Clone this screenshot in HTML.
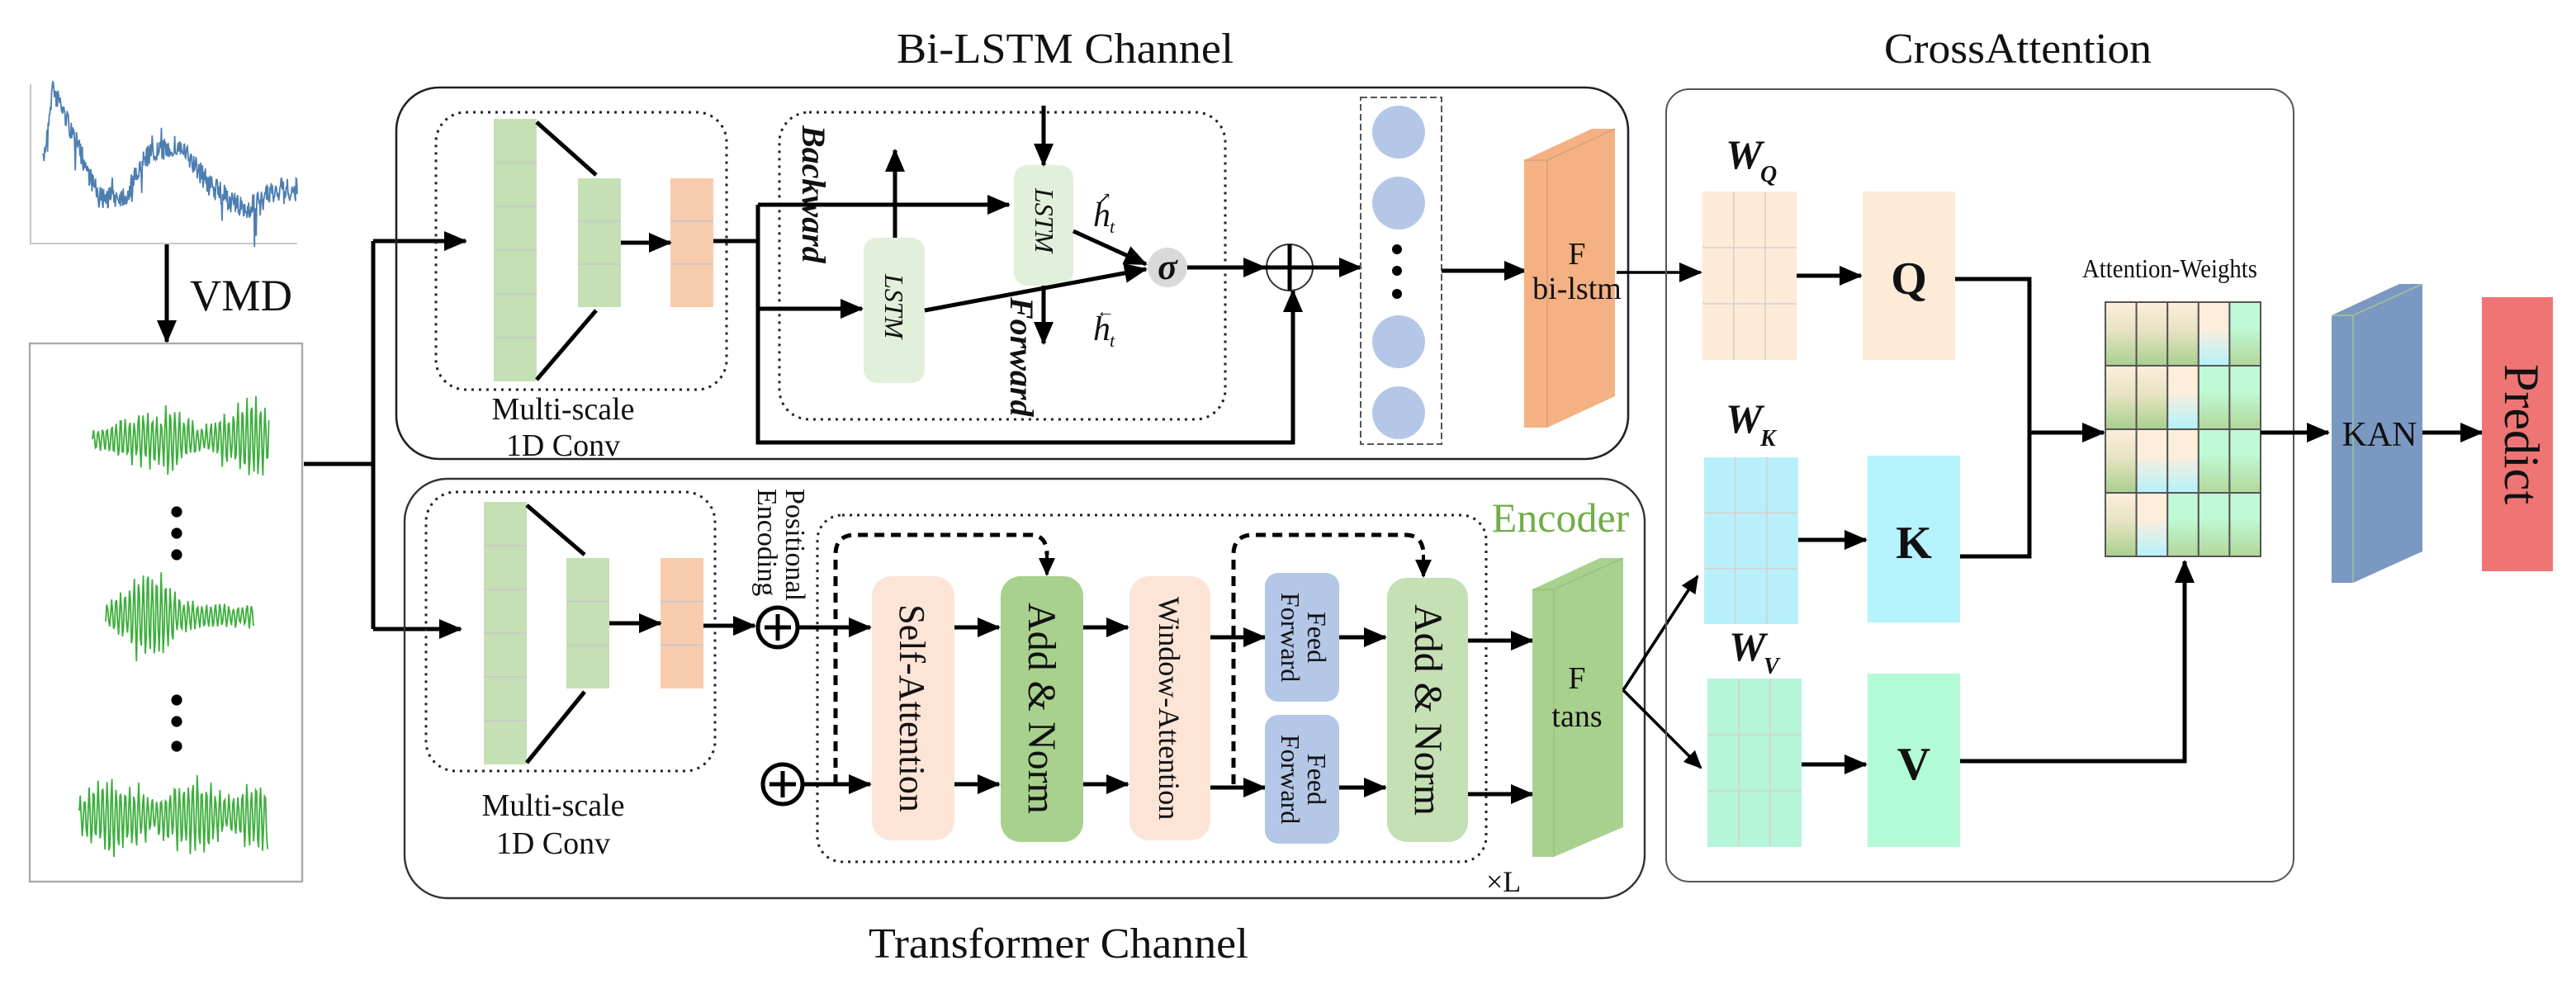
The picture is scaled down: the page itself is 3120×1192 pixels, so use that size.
<!DOCTYPE html>
<html><head><meta charset="utf-8"><style>
html,body{margin:0;padding:0;background:#fff;}
svg{display:block;font-family:"Liberation Serif","DejaVu Serif",serif;}
svg text{font-family:"Liberation Serif","DejaVu Serif",serif;fill:#111;}
</style></head><body>
<svg id="s" xmlns="http://www.w3.org/2000/svg" width="3120" height="1192" viewBox="0 0 1560 596" font-family="Liberation Serif, serif">
<defs>
<marker id="a" markerUnits="userSpaceOnUse" markerWidth="14" markerHeight="12" refX="13" refY="6" orient="auto"><path d="M0,0 L14,6 L0,12 z" fill="#000"/></marker>
<marker id="as" markerUnits="userSpaceOnUse" markerWidth="11" markerHeight="10" refX="10" refY="5" orient="auto"><path d="M0,0 L11,5 L0,10 z" fill="#000"/></marker>
<linearGradient id="gA" x1="0" y1="0" x2="0" y2="1"><stop offset="0" stop-color="#fdeedc"/><stop offset="0.45" stop-color="#e6e3c2"/><stop offset="1" stop-color="#a9d08e"/></linearGradient>
<linearGradient id="gB" x1="0" y1="0" x2="0" y2="1"><stop offset="0" stop-color="#fdeedc"/><stop offset="0.4" stop-color="#fdeedc"/><stop offset="1" stop-color="#b4f2fb"/></linearGradient>
<linearGradient id="gC" x1="0" y1="0" x2="0" y2="1"><stop offset="0" stop-color="#bff9d5"/><stop offset="0.4" stop-color="#bff9d5"/><stop offset="1" stop-color="#b3d79a"/></linearGradient>
</defs>

<!-- Titles -->
<text font-family="Liberation Serif, serif" x="645" y="38" font-size="26" text-anchor="middle" textLength="204" lengthAdjust="spacingAndGlyphs">Bi-LSTM Channel</text>
<text font-family="Liberation Serif, serif" x="1222" y="38" font-size="26" text-anchor="middle" textLength="162" lengthAdjust="spacingAndGlyphs">CrossAttention</text>
<text font-family="Liberation Serif, serif" x="641" y="580" font-size="26" text-anchor="middle" textLength="230" lengthAdjust="spacingAndGlyphs">Transformer Channel</text>

<!-- top signal -->
<path d="M18.5,51 V147.5 H180" fill="none" stroke="#c8c8c8" stroke-width="1"/>
<g id="blue"></g>
<line x1="101" y1="148" x2="101" y2="207" stroke="#000" stroke-width="2.5" marker-end="url(#a)"/>
<text font-family="Liberation Serif, serif" x="115" y="188" font-size="27" textLength="62" lengthAdjust="spacingAndGlyphs">VMD</text>

<!-- IMF box -->
<rect x="18" y="208" width="165" height="326" fill="#fff" stroke="#aaa" stroke-width="1.2"/>
<g id="greens"></g>
<g fill="#000"><circle cx="107" cy="310" r="3.3"/><circle cx="107" cy="323" r="3.3"/><circle cx="107" cy="336" r="3.3"/>
<circle cx="107" cy="424" r="3.3"/><circle cx="107" cy="437" r="3.3"/><circle cx="107" cy="452" r="3.3"/></g>

<!-- splitter -->
<path d="M184,281 H226 M226,146 V381" stroke="#000" stroke-width="2.5" fill="none"/>
<line x1="226" y1="146" x2="282" y2="146" stroke="#000" stroke-width="2.5" marker-end="url(#a)"/>
<line x1="226" y1="381" x2="279" y2="381" stroke="#000" stroke-width="2.5" marker-end="url(#a)"/>

<!-- Bi-LSTM outer -->
<rect x="240" y="53" width="746" height="225" rx="26" fill="none" stroke="#222" stroke-width="1.3"/>
<rect x="264" y="68" width="176" height="168" rx="18" fill="none" stroke="#222" stroke-width="1.5" stroke-dasharray="1.5,3"/>
<g id="ms1"></g>
<text font-family="Liberation Serif, serif" x="341" y="254" font-size="19" text-anchor="middle">Multi-scale</text>
<text font-family="Liberation Serif, serif" x="341" y="276" font-size="19" text-anchor="middle">1D Conv</text>

<!-- LSTM dotted -->
<rect x="472" y="68" width="270" height="186" rx="18" fill="none" stroke="#222" stroke-width="1.5" stroke-dasharray="1.5,3"/>
<text font-family="Liberation Serif, serif" transform="translate(486,76) rotate(90)" font-size="20" font-weight="bold" font-style="italic">Backward</text>
<text font-family="Liberation Serif, serif" transform="translate(612,180) rotate(90)" font-size="20" font-weight="bold" font-style="italic">Forward</text>
<path d="M432,146 H459 M459,124 V268 H783 V176" stroke="#000" stroke-width="2.5" fill="none"/>
<line x1="459" y1="124" x2="611" y2="124" stroke="#000" stroke-width="2.5" marker-end="url(#a)"/>
<line x1="459" y1="187" x2="522" y2="187" stroke="#000" stroke-width="2.5" marker-end="url(#a)"/>
<line x1="783" y1="200" x2="783" y2="176" stroke="#000" stroke-width="2.5" marker-end="url(#a)"/>
<rect x="523" y="144" width="37" height="88" rx="8" fill="#e2efda"/>
<rect x="614" y="100" width="36" height="73" rx="8" fill="#e2efda"/>
<text font-family="Liberation Serif, serif" transform="translate(536,166) rotate(90)" font-size="16" font-style="italic">LSTM</text>
<text font-family="Liberation Serif, serif" transform="translate(627,114) rotate(90)" font-size="16" font-style="italic">LSTM</text>
<line x1="542" y1="144" x2="542" y2="91" stroke="#000" stroke-width="2.5" marker-end="url(#a)"/>
<line x1="632" y1="64" x2="632" y2="100" stroke="#000" stroke-width="2.5" marker-end="url(#a)"/>
<line x1="632" y1="173" x2="632" y2="208" stroke="#000" stroke-width="2.5" marker-end="url(#a)"/>
<line x1="650" y1="140" x2="694" y2="160" stroke="#000" stroke-width="2.5" marker-end="url(#a)"/>
<line x1="560" y1="188" x2="694" y2="163" stroke="#000" stroke-width="2.5" marker-end="url(#a)"/>
<text font-family="Liberation Serif, serif" x="662" y="137" font-size="21" font-style="italic">h</text><text font-family="Liberation Serif, serif" x="672" y="141" font-size="11" font-style="italic">t</text>
<text font-family="Liberation Serif, serif" x="664" y="124" font-size="11">&#8599;</text>
<text font-family="Liberation Serif, serif" x="662" y="206" font-size="21" font-style="italic">h</text><text font-family="Liberation Serif, serif" x="672" y="210" font-size="11" font-style="italic">t</text>
<text font-family="Liberation Serif, serif" x="664" y="192" font-size="11">&#8592;</text>
<circle cx="707" cy="162" r="12" fill="#d9d9d9"/>
<text font-family="Liberation Serif, serif" x="707" y="169" font-size="22" font-weight="bold" font-style="italic" text-anchor="middle">σ</text>
<line x1="719" y1="162" x2="766" y2="162" stroke="#000" stroke-width="2.5" marker-end="url(#a)"/>
<ellipse cx="781" cy="162" rx="14" ry="14" fill="none" stroke="#333" stroke-width="1"/>
<path d="M766,162 H795 M781,148 V176" stroke="#000" stroke-width="2.5"/>
<line x1="795" y1="162" x2="824" y2="162" stroke="#000" stroke-width="2.5" marker-end="url(#a)"/>
<rect x="824" y="59" width="49" height="210" fill="none" stroke="#555" stroke-width="1" stroke-dasharray="4,2"/>
<g fill="#b4c7e7"><circle cx="847" cy="80" r="16"/><circle cx="847" cy="123" r="16"/><circle cx="847" cy="207" r="16"/><circle cx="847" cy="250" r="16"/></g>
<g fill="#000"><circle cx="846" cy="151" r="3"/><circle cx="846" cy="164" r="3"/><circle cx="846" cy="178" r="3"/></g>
<line x1="873" y1="164" x2="924" y2="164" stroke="#000" stroke-width="2.5" marker-end="url(#a)"/>
<path d="M923,97 L964,78 L978,78 L978,240 L937,259 L923,259 Z" fill="#f4b183"/>
<path d="M923,97 L937,97 L978,78 M937,97 V259" stroke="#d9a07a" stroke-width="0.7" fill="none"/>
<text font-family="Liberation Serif, serif" x="955" y="160" font-size="19" text-anchor="middle">F</text>
<text font-family="Liberation Serif, serif" x="955" y="181" font-size="19" text-anchor="middle">bi-lstm</text>
<line x1="979" y1="165" x2="1030" y2="165" stroke="#000" stroke-width="1.8" marker-end="url(#a)"/>

<!-- Transformer outer -->
<rect x="245" y="290" width="751" height="254" rx="26" fill="none" stroke="#333" stroke-width="1.2"/>
<rect x="258" y="298" width="175" height="169" rx="18" fill="none" stroke="#222" stroke-width="1.5" stroke-dasharray="1.5,3"/>
<g id="ms2"></g>
<text font-family="Liberation Serif, serif" x="335" y="494" font-size="19" text-anchor="middle">Multi-scale</text>
<text font-family="Liberation Serif, serif" x="335" y="517" font-size="19" text-anchor="middle">1D Conv</text>
<line x1="426" y1="379" x2="457" y2="379" stroke="#000" stroke-width="2.5" marker-end="url(#a)"/>
<circle cx="471" cy="380" r="12" fill="#fff" stroke="#000" stroke-width="2.5"/>
<path d="M463,380 H479 M471,372 V388" stroke="#000" stroke-width="2.5"/>
<circle cx="474" cy="475" r="12" fill="#fff" stroke="#000" stroke-width="2.5"/>
<path d="M466,475 H482 M474,467 V483" stroke="#000" stroke-width="2.5"/>
<text font-family="Liberation Serif, serif" transform="translate(476,296) rotate(90)" font-size="17">Positional</text>
<text font-family="Liberation Serif, serif" transform="translate(459,296) rotate(90)" font-size="17">Encoding</text>

<!-- encoder -->
<rect x="495" y="312" width="405" height="210" rx="15" fill="none" stroke="#222" stroke-width="1.5" stroke-dasharray="1.5,3"/>
<text font-family="Liberation Serif, serif" x="945" y="322" font-size="25" text-anchor="middle" style="fill:#70ad47">Encoder</text>
<text font-family="Liberation Serif, serif" x="900" y="540" font-size="18">×L</text>
<line x1="483" y1="380" x2="527" y2="380" stroke="#000" stroke-width="2.5" marker-end="url(#a)"/>
<line x1="486" y1="475" x2="527" y2="475" stroke="#000" stroke-width="2.5" marker-end="url(#a)"/>
<path d="M506,475 V336 Q506,324 518,324 H624 Q634,324 634,336" fill="none" stroke="#000" stroke-width="2.5" stroke-dasharray="6,4"/>
<line x1="634" y1="336" x2="634" y2="348" stroke="#000" stroke-width="2" marker-end="url(#as)"/>
<path d="M747,475 V336 Q747,324 759,324 H851 Q862,324 862,336" fill="none" stroke="#000" stroke-width="2.5" stroke-dasharray="6,4"/>
<line x1="862" y1="336" x2="862" y2="349" stroke="#000" stroke-width="2" marker-end="url(#as)"/>

<rect x="528" y="349" width="50" height="160" rx="12" fill="#fce4d6"/>
<text font-family="Liberation Serif, serif" transform="translate(545,429) rotate(90)" font-size="22" text-anchor="middle">Self-Attention</text>
<line x1="578" y1="380" x2="605" y2="380" stroke="#000" stroke-width="2.5" marker-end="url(#a)"/>
<line x1="578" y1="475" x2="605" y2="475" stroke="#000" stroke-width="2.5" marker-end="url(#a)"/>
<rect x="606" y="349" width="50" height="161" rx="12" fill="#a9d18e"/>
<text font-family="Liberation Serif, serif" transform="translate(623,429) rotate(90)" font-size="24" text-anchor="middle">Add &amp; Norm</text>
<line x1="656" y1="380" x2="683" y2="380" stroke="#000" stroke-width="2.5" marker-end="url(#a)"/>
<line x1="656" y1="475" x2="683" y2="475" stroke="#000" stroke-width="2.5" marker-end="url(#a)"/>
<rect x="684" y="349" width="49" height="160" rx="12" fill="#fce4d6"/>
<text font-family="Liberation Serif, serif" transform="translate(702,429) rotate(90)" font-size="18" text-anchor="middle">Window-Attention</text>
<line x1="733" y1="386" x2="766" y2="386" stroke="#000" stroke-width="2.5" marker-end="url(#a)"/>
<line x1="733" y1="477" x2="766" y2="477" stroke="#000" stroke-width="2.5" marker-end="url(#a)"/>
<rect x="766" y="347" width="45" height="78" rx="8" fill="#b4c7e7"/>
<rect x="766" y="433" width="45" height="78" rx="8" fill="#b4c7e7"/>
<text font-family="Liberation Serif, serif" transform="translate(792,386) rotate(90)" font-size="16" text-anchor="middle">Feed</text>
<text font-family="Liberation Serif, serif" transform="translate(776,386) rotate(90)" font-size="16" text-anchor="middle">Forward</text>
<text font-family="Liberation Serif, serif" transform="translate(792,472) rotate(90)" font-size="16" text-anchor="middle">Feed</text>
<text font-family="Liberation Serif, serif" transform="translate(776,472) rotate(90)" font-size="16" text-anchor="middle">Forward</text>
<line x1="811" y1="386" x2="839" y2="386" stroke="#000" stroke-width="2.5" marker-end="url(#a)"/>
<line x1="811" y1="477" x2="839" y2="477" stroke="#000" stroke-width="2.5" marker-end="url(#a)"/>
<rect x="840" y="350" width="49" height="160" rx="12" fill="#c5e0b4"/>
<text font-family="Liberation Serif, serif" transform="translate(857,430) rotate(90)" font-size="24" text-anchor="middle">Add &amp; Norm</text>
<line x1="889" y1="388" x2="928" y2="388" stroke="#000" stroke-width="2.5" marker-end="url(#a)"/>
<line x1="889" y1="481" x2="928" y2="481" stroke="#000" stroke-width="2.5" marker-end="url(#a)"/>
<path d="M928,357 L969,338 L983,338 L983,501 L941,519 L928,519 Z" fill="#a9d18e"/>
<path d="M941,357 V519 M928,357 L941,357 L983,338" stroke="#98c07c" stroke-width="0.7" fill="none"/>
<text font-family="Liberation Serif, serif" x="955" y="417" font-size="19" text-anchor="middle">F</text>
<text font-family="Liberation Serif, serif" x="955" y="440" font-size="19" text-anchor="middle">tans</text>
<line x1="983" y1="418" x2="1028" y2="349" stroke="#000" stroke-width="1.8" marker-end="url(#as)"/>
<line x1="983" y1="418" x2="1030" y2="465" stroke="#000" stroke-width="1.8" marker-end="url(#as)"/>

<!-- CrossAttention -->
<rect x="1009" y="54" width="380" height="480" rx="14" fill="none" stroke="#555" stroke-width="1"/>
<g font-weight="bold" font-style="italic" font-family="Liberation Serif, serif">
<text x="1045" y="102" font-size="25">W</text><text x="1066" y="110" font-size="14">Q</text>
<text x="1045" y="262" font-size="25">W</text><text x="1066" y="270" font-size="14">K</text>
<text x="1047" y="400" font-size="25">W</text><text x="1068" y="408" font-size="14">V</text>
</g>
<g id="wgrids"></g>
<line x1="1088" y1="167" x2="1127" y2="167" stroke="#000" stroke-width="2.5" marker-end="url(#a)"/>
<line x1="1089" y1="327" x2="1130" y2="327" stroke="#000" stroke-width="2.5" marker-end="url(#a)"/>
<line x1="1091" y1="463" x2="1130" y2="463" stroke="#000" stroke-width="2.5" marker-end="url(#a)"/>
<rect x="1128" y="116" width="56" height="102" fill="#fdebd7"/>
<rect x="1131" y="276" width="56" height="101" fill="#b5f3fd"/>
<rect x="1131" y="408" width="56" height="105" fill="#b3fbd6"/>
<text font-family="Liberation Serif, serif" x="1156" y="178" font-size="28" font-weight="bold" text-anchor="middle">Q</text>
<text font-family="Liberation Serif, serif" x="1159" y="338" font-size="28" font-weight="bold" text-anchor="middle">K</text>
<text font-family="Liberation Serif, serif" x="1159" y="472" font-size="28" font-weight="bold" text-anchor="middle">V</text>
<path d="M1184,169 H1229 V337 H1187" stroke="#000" stroke-width="2.5" fill="none"/>
<line x1="1229" y1="262" x2="1274" y2="262" stroke="#000" stroke-width="2.5" marker-end="url(#a)"/>
<path d="M1187,461 H1323 V352" stroke="#000" stroke-width="2.5" fill="none"/>
<line x1="1323" y1="360" x2="1323" y2="340" stroke="#000" stroke-width="2.5" marker-end="url(#a)"/>
<text font-family="Liberation Serif, serif" x="1314" y="168" font-size="16" text-anchor="middle" textLength="106" lengthAdjust="spacingAndGlyphs">Attention-Weights</text>
<g id="att"></g>
<line x1="1369" y1="262" x2="1410" y2="262" stroke="#000" stroke-width="2.5" marker-end="url(#a)"/>
<path d="M1412,191 L1453,172 L1467,172 L1467,334 L1425,353 L1412,353 Z" fill="#7b98c3"/>
<path d="M1412,191 L1425,191 L1467,172 M1425,191 V353" stroke="#a9d18e" stroke-width="0.6" fill="none"/>
<text font-family="Liberation Serif, serif" x="1441" y="270" font-size="21" text-anchor="middle">KAN</text>
<line x1="1467" y1="262" x2="1503" y2="262" stroke="#000" stroke-width="2.5" marker-end="url(#a)"/>
<rect x="1503" y="180" width="43" height="166" fill="#ef7575"/>
<text font-family="Liberation Serif, serif" transform="translate(1517,263) rotate(90)" font-size="30" text-anchor="middle">Predict</text>
</svg>
<script>
var NS="http://www.w3.org/2000/svg";
function el(t,a,p){var e=document.createElementNS(NS,t);for(var k in a)e.setAttribute(k,a[k]);(p||document.getElementById('s')).appendChild(e);return e;}
var seed=7;function rnd(){seed=(seed*16807)%2147483647;return seed/2147483647;}
var pts=[[26,100],[32,52],[60,120],[77,118],[88,95],[108,88],[127,112],[148,128],[168,115],[179,115]];
function base(x){for(var i=0;i<pts.length-1;i++){if(x<=pts[i+1][0]){var t=(x-pts[i][0])/(pts[i+1][0]-pts[i][0]);return pts[i][1]+(pts[i+1][1]-pts[i][1])*t;}}return pts[pts.length-1][1];}
var d="";for(var x=26;x<=180;x+=0.35){var y=base(x)+(rnd()-0.5)*14+(rnd()<0.06?(rnd()-0.3)*30:0);d+=(d?"L":"M")+x.toFixed(2)+","+y.toFixed(2);}
el('path',{d:d,fill:'none',stroke:'#2e67a3','stroke-width':'0.9','stroke-opacity':'0.85'},document.getElementById('blue'));
var g=document.getElementById('greens');
var specs=[[266,56,163,function(t){return (0.3+0.7*Math.abs(Math.sin(t*5)))*(t>0.4?1:0.7);}],
[373,64,154,function(t){return Math.exp(-Math.pow((t-0.3)*6,2))+0.3;}],
[494,48,162,function(t){return 0.45+0.55*Math.abs(Math.sin(t*8));}]];
specs.forEach(function(s){var dd="";var amp=27;for(var x=s[1];x<=s[2];x+=0.6){var t=(x-s[1])/(s[2]-s[1]);var y=s[0]+amp*s[3](t)*Math.sin(x*2.3)*(0.5+0.5*rnd());dd+=(dd?"L":"M")+x.toFixed(2)+","+y.toFixed(2);}
el('path',{d:dd,fill:'none',stroke:'#3cae3c','stroke-width':'0.9'},g);});
function ms(gid,bx,by,bh,mx,my,mh,ox){var p=document.getElementById(gid);
el('rect',{x:bx,y:by,width:26,height:bh,fill:'#c5e0b4'},p);
for(var i=1;i<6;i++)el('line',{x1:bx,x2:bx+26,y1:by+bh*i/6,y2:by+bh*i/6,stroke:'#c8c8c8','stroke-width':'0.8'},p);
el('rect',{x:mx,y:my,width:26,height:mh,fill:'#c5e0b4'},p);
el('rect',{x:ox,y:my,width:26,height:mh,fill:'#f8cbad'},p);
for(var i=1;i<3;i++){el('line',{x1:mx,x2:mx+26,y1:my+mh*i/3,y2:my+mh*i/3,stroke:'#c8c8c8','stroke-width':'0.8'},p);el('line',{x1:ox,x2:ox+26,y1:my+mh*i/3,y2:my+mh*i/3,stroke:'#c8c8c8','stroke-width':'0.8'},p);}
el('line',{x1:bx+26,y1:by+2,x2:mx+11,y2:my-2,stroke:'#000','stroke-width':'2.5'},p);
el('line',{x1:bx+26,y1:by+bh-1,x2:mx+11,y2:my+mh+2,stroke:'#000','stroke-width':'2.5'},p);
var cy=my+mh/2;el('line',{x1:mx+26,y1:cy,x2:ox,y2:cy,stroke:'#000','stroke-width':'2.5','marker-end':'url(#a)'},p);}
ms('ms1',299,72,159,350,108,78,406);
ms('ms2',293,304,159,343,338,79,400);
var wg=document.getElementById('wgrids');
[[1031,116,57,102,'#fdebd7'],[1032,277,57,101,'#b7f0fb'],[1034,411,57,102,'#b5f5d9']].forEach(function(w){
el('rect',{x:w[0],y:w[1],width:w[2],height:w[3],fill:w[4]},wg);
for(var i=1;i<3;i++){el('line',{x1:w[0]+w[2]*i/3,x2:w[0]+w[2]*i/3,y1:w[1],y2:w[1]+w[3],stroke:'#d8d0c8','stroke-width':'0.8'},wg);
el('line',{x1:w[0],x2:w[0]+w[2],y1:w[1]+w[3]*i/3,y2:w[1]+w[3]*i/3,stroke:'#d8d0c8','stroke-width':'0.8'},wg);}});
var at=document.getElementById('att');var pat=["AAABC","AABCC","ABBCC","ABCCC"];
var ax=1275,ay=183,cw=94/5,ch=154/4;
for(var r=0;r<4;r++)for(var c=0;c<5;c++)el('rect',{x:ax+c*cw,y:ay+r*ch,width:cw,height:ch,fill:'url(#g'+pat[r][c]+')',stroke:'#555','stroke-width':'1'},at);
</script>
</body></html>
